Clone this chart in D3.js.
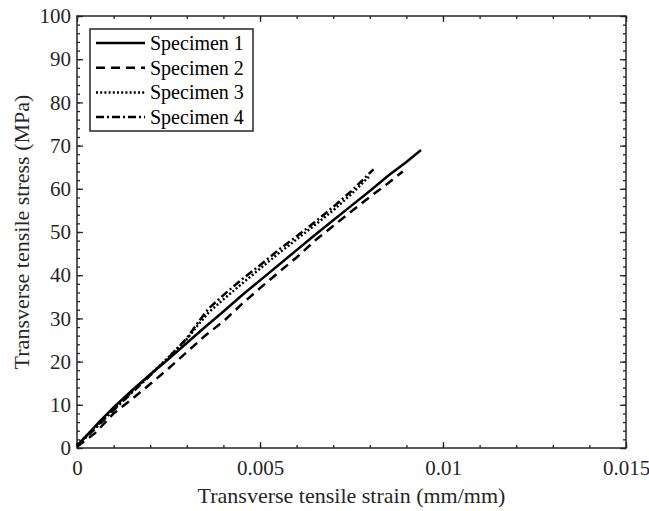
<!DOCTYPE html>
<html lang="en">
<head>
<meta charset="UTF-8">
<title>Transverse tensile stress-strain</title>
<script src="https://d3js.org/d3.v7.min.js"></script>
<style>
  body { margin: 0; background: #fff; }
</style>
</head>
<body>
<div id="chart"></div>
<script>
// strain (mm/mm) / stress (MPa)
const names = ["Specimen 1", "Specimen 2", "Specimen 3", "Specimen 4"];
const strain1 = [0, 0.0003, 0.0006, 0.001, 0.0015, 0.002, 0.0025, 0.003, 0.0035, 0.004, 0.0045, 0.005, 0.0055, 0.006, 0.0065, 0.007, 0.0075, 0.008, 0.0085, 0.009, 0.0094];
const stress1 = [0.5, 3.2, 6.0, 9.4, 13.3, 17.0, 20.6, 24.3, 28.0, 31.6, 35.3, 38.8, 42.3, 45.8, 49.3, 52.7, 56.1, 59.5, 63.0, 66.2, 69.0];
const strain2 = [0, 0.0005, 0.001, 0.0015, 0.002, 0.0025, 0.003, 0.0035, 0.004, 0.0045, 0.005, 0.0055, 0.006, 0.0065, 0.007, 0.0075, 0.008, 0.0085, 0.0089];
const stress2 = [0.3, 3.5, 8.0, 11.3, 14.8, 18.4, 22.2, 26.0, 29.3, 33.3, 37.0, 40.6, 44.1, 48.0, 51.4, 54.8, 58.1, 61.3, 64.0];
const strain3 = [0, 0.0005, 0.001, 0.0015, 0.002, 0.0025, 0.003, 0.0033, 0.0036, 0.004, 0.0045, 0.005, 0.0055, 0.006, 0.0065, 0.007, 0.0075, 0.0080];
const stress3 = [0.8, 4.8, 9.0, 13.0, 17.0, 21.0, 25.2, 28.4, 31.4, 34.4, 38.0, 41.5, 45.0, 48.3, 51.6, 55.0, 58.8, 63.0];
const strain4 = [0, 0.0005, 0.001, 0.0015, 0.002, 0.0025, 0.003, 0.0033, 0.0036, 0.004, 0.0045, 0.005, 0.0055, 0.006, 0.0065, 0.007, 0.0075, 0.0081];
const stress4 = [0.5, 4.5, 8.8, 12.8, 16.8, 20.9, 25.4, 29.0, 32.3, 35.4, 39.0, 42.3, 45.8, 49.0, 52.3, 55.8, 59.5, 64.5];
const xTicks = [0, 0.005, 0.01, 0.015];
const xTickLabels = ["0", "0.005", "0.01", "0.015"];
const yTicks = [0, 10, 20, 30, 40, 50, 60, 70, 80, 90, 100];

const strains = [strain1, strain2, strain3, strain4];
const stresses = [stress1, stress2, stress3, stress4];
const dashes = [null, "9,6", "2,2.2", "8,3,2,3"];
const FONT = '"Liberation Serif", "Times New Roman", serif';

const W = 649, H = 511;
const margin = { left: 77, right: 23, top: 16, bottom: 63 };

const svg = d3.select("#chart").append("svg")
    .attr("width", W).attr("height", H)
    .style("font-family", FONT);

const x = d3.scaleLinear().domain([0, 0.015]).range([margin.left, W - margin.right]);
const y = d3.scaleLinear().domain([0, 100]).range([H - margin.bottom, margin.top]);

// minor ticks every 0.001 / 2 MPa, inward, on all four sides
const xMinor = d3.range(0, 0.01501, 0.001);
const yMinor = d3.range(0, 100.01, 2);

function tickAxis(axisFn, scale, ticks, minors, transform, labels) {
  const gMinor = svg.append("g").attr("transform", transform)
      .call(axisFn(scale).tickValues(minors).tickSize(-3).tickFormat(""));
  gMinor.select(".domain").remove();
  const g = svg.append("g").attr("transform", transform)
      .call(axisFn(scale).tickValues(ticks).tickSize(-6).tickPadding(10)
        .tickFormat(labels ? (d, i) => labels[i] : null));
  g.select(".domain").remove();
  svg.selectAll("g").attr("font-family", null);
  svg.selectAll(".tick line").attr("stroke", "#262626").attr("stroke-width", 1.3);
  return g;
}

const gx = tickAxis(d3.axisBottom, x, xTicks, xMinor, `translate(0,${y(0)})`, xTickLabels);
gx.selectAll("text").style("font-size", "21px").style("font-family", FONT)
    .attr("fill", "#262626").attr("dy", "0.75em").attr("y", 11);
tickAxis(d3.axisTop, x, xTicks, xMinor, `translate(0,${y(100)})`, null).selectAll("text").remove();
const gy = tickAxis(d3.axisLeft, y, yTicks, yMinor, `translate(${x(0)},0)`, null);
gy.selectAll("text").style("font-size", "21px").style("font-family", FONT)
    .attr("fill", "#262626").attr("x", -6);
tickAxis(d3.axisRight, y, yTicks, yMinor, `translate(${x(0.015)},0)`, null).selectAll("text").remove();

// box
svg.append("rect")
    .attr("x", x(0)).attr("y", y(100))
    .attr("width", x(0.015) - x(0)).attr("height", y(0) - y(100))
    .attr("fill", "none").attr("stroke", "#262626").attr("stroke-width", 1.5);

// axis labels
svg.append("text")
    .attr("x", (x(0) + x(0.015)) / 2).attr("y", 503)
    .attr("text-anchor", "middle").style("font-size", "22px")
    .style("font-family", FONT).attr("fill", "#262626")
    .text("Transverse tensile strain (mm/mm)");
svg.append("text")
    .attr("transform", `translate(29,${(y(0) + y(100)) / 2}) rotate(-90)`)
    .attr("text-anchor", "middle").style("font-size", "22px")
    .style("font-family", FONT).attr("fill", "#262626")
    .text("Transverse tensile stress (MPa)");

// curves
const line = d3.line().x(d => x(d[0])).y(d => y(d[1]));
strains.forEach((s, k) => {
  const pts = s.map((v, i) => [v, stresses[k][i]]);
  svg.append("path")
      .datum(pts)
      .attr("d", line)
      .attr("fill", "none")
      .attr("stroke", "#000")
      .attr("stroke-width", 2.5)
      .attr("stroke-dasharray", dashes[k]);
});

// legend
const lg = svg.append("g").attr("transform", "translate(90,29)");
lg.append("rect")
    .attr("width", 163).attr("height", 102)
    .attr("fill", "#fff").attr("stroke", "#262626").attr("stroke-width", 1.5);
names.forEach((n, k) => {
  const yy = 14 + k * 24.7;
  lg.append("line")
      .attr("x1", 6).attr("x2", 55).attr("y1", yy).attr("y2", yy)
      .attr("stroke", "#000").attr("stroke-width", 2.5)
      .attr("stroke-dasharray", dashes[k]);
  lg.append("text")
      .attr("x", 60).attr("y", yy).attr("dy", "0.35em")
      .style("font-size", "20px").style("font-family", FONT).attr("fill", "#000")
      .text(n);
});
</script>
</body>
</html>
